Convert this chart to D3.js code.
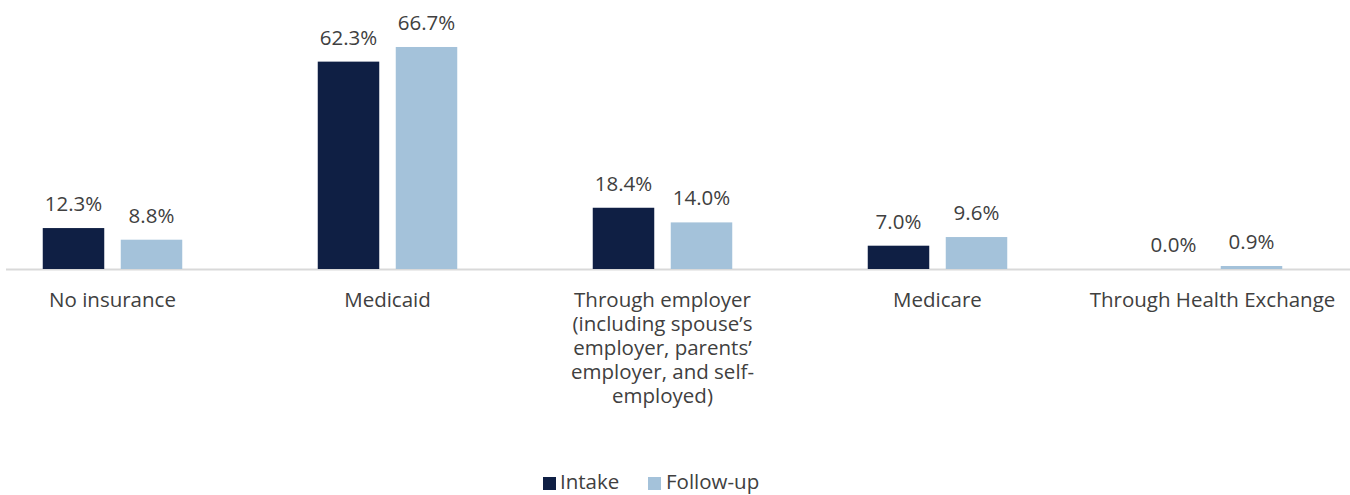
<!DOCTYPE html>
<html><head><meta charset="utf-8">
<script src="https://cdn.jsdelivr.net/npm/d3@7"></script>
<style>body{margin:0;background:#fff}svg{display:block}</style>
</head><body>
<script>
const categories = ["No insurance","Medicaid","Through employer (including spouse’s employer, parents’ employer, and self-employed)","Medicare","Through Health Exchange"];
const categoryLines = [["No insurance"],["Medicaid"],["Through employer","(including spouse’s","employer, parents’","employer, and self-","employed)"],["Medicare"],["Through Health Exchange"]];
const series = ["Intake","Follow-up"];
const intake = [12.3, 62.3, 18.4, 7.0, 0.0];
const followUp = [8.8, 66.7, 14.0, 9.6, 0.9];
const colors = ["#0f1f44","#a4c2da"];

const W = 1350, H = 495;
const font = "'Open Sans', sans-serif";
const fs = 20.5;
const textColor = "#404040";
const svg = d3.select("body").append("svg").attr("width", W).attr("height", H);

const x0 = d3.scaleBand().domain(categories).range([-25, 1350]).paddingInner(0);
const groupW = 139.5;
const x1 = d3.scaleBand().domain(series).range([0, groupW]).paddingInner(16.5/78).paddingOuter(0);
const y = d3.scaleLinear().domain([0, 70]).range([269, 36]);

const data = categories.map((c, i) => ({c, vals: [intake[i], followUp[i]]}));

// axis line
svg.append("line").attr("x1", 6).attr("x2", 1350).attr("y1", y(0)+0.5).attr("y2", y(0)+0.5)
  .attr("stroke", "#d9d9d9").attr("stroke-width", 2);

const g = svg.selectAll("g.cat").data(data).enter().append("g")
  .attr("transform", d => `translate(${x0(d.c) + (x0.bandwidth() - groupW)/2},0)`);

g.selectAll("rect").data(d => d.vals.map((v, j) => ({v, s: series[j], j})))
  .enter().append("rect")
  .attr("x", d => x1(d.s)).attr("width", x1.bandwidth())
  .attr("y", d => y(d.v)).attr("height", d => y(0) - y(d.v))
  .attr("fill", d => colors[d.j]);

g.selectAll("text.val").data(d => d.vals.map((v, j) => ({v, s: series[j], j})))
  .enter().append("text").attr("class","val")
  .attr("x", d => x1(d.s) + x1.bandwidth()/2).attr("y", d => y(d.v) - 17)
  .attr("text-anchor","middle").attr("font-family", font).attr("font-size", fs)
  .attr("fill", textColor).text(d => d.v.toFixed(1) + "%");

// category labels
data.forEach((d, i) => {
  const t = svg.append("text").attr("text-anchor","middle").attr("font-family", font)
    .attr("font-size", fs).attr("fill", textColor);
  categoryLines[i].forEach((ln, k) => {
    t.append("tspan").attr("x", x0(d.c) + x0.bandwidth()/2).attr("y", 307 + k*24).text(ln);
  });
});

// legend
const legend = [{x: 543, tx: 560}, {x: 648, tx: 666}];
series.forEach((s, j) => {
  svg.append("rect").attr("x", legend[j].x).attr("y", 477).attr("width", 13).attr("height", 13).attr("fill", colors[j]);
  svg.append("text").attr("x", legend[j].tx).attr("y", 489).attr("font-family", font).attr("font-size", fs)
    .attr("fill", textColor).text(s);
});
</script>
</body></html>
